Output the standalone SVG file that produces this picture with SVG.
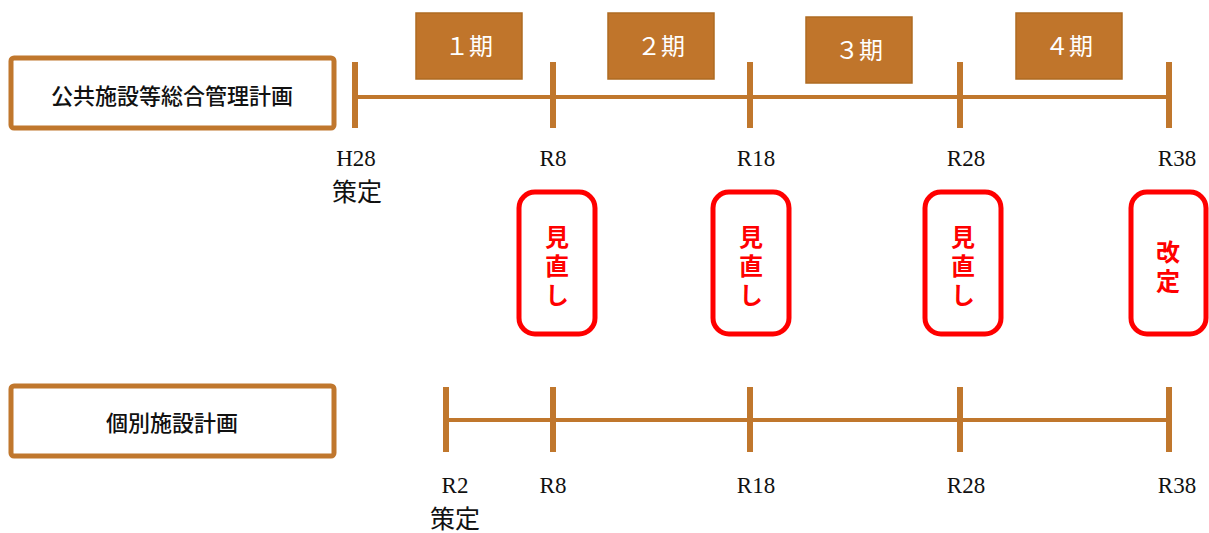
<svg xmlns="http://www.w3.org/2000/svg" width="1209" height="533" viewBox="0 0 1209 533">
<style>
.lbox{fill:#fff;stroke:#C0772D;stroke-width:5}
.ltxt{font-family:"Noto Sans CJK JP","Noto Sans",sans-serif;font-size:22px;font-weight:500;fill:#111;text-anchor:middle;dominant-baseline:central}
.line{stroke:#C0772D;stroke-width:4;fill:none}
.tick{stroke:#C0772D;stroke-width:6;fill:none}
.pbox{fill:#C0752B;stroke:#AE6B22;stroke-width:1.5}
.ptxt{font-family:"Liberation Serif","Noto Sans CJK JP",serif;font-size:24px;fill:#fff;text-anchor:middle;dominant-baseline:central}
.yr{font-family:"Liberation Serif","Noto Sans CJK JP",serif;font-size:23px;fill:#111;text-anchor:middle}
.sk{font-family:"Noto Sans CJK JP",serif;font-size:25px;fill:#111;text-anchor:middle}
.rbox{fill:#fff;stroke:#FF0000;stroke-width:5}
.rtxt{font-family:"Noto Sans CJK JP",sans-serif;font-size:24px;font-weight:700;fill:#FF0000;text-anchor:middle;writing-mode:vertical-rl;letter-spacing:5px}
</style>
<g id="plan-top">
<rect class="lbox" x="11" y="58" width="323" height="70" rx="3"/>
<text class="ltxt" x="172" y="94">公共施設等総合管理計画</text>
</g>
<g id="plan-bottom">
<rect class="lbox" x="11" y="386" width="323" height="70" rx="3"/>
<text class="ltxt" x="172" y="421">個別施設計画</text>
</g>
<g id="connectors">
<line class="line" x1="355" y1="97" x2="1169" y2="97"/>
<line class="tick" x1="355" y1="62" x2="355" y2="128"/>
<line class="tick" x1="553" y1="62" x2="553" y2="128"/>
<line class="tick" x1="750" y1="62" x2="750" y2="128"/>
<line class="tick" x1="960" y1="62" x2="960" y2="128"/>
<line class="tick" x1="1169" y1="62" x2="1169" y2="128"/>
<line class="line" x1="446" y1="420" x2="1169" y2="420"/>
<line class="tick" x1="446" y1="387" x2="446" y2="452"/>
<line class="tick" x1="553" y1="387" x2="553" y2="452"/>
<line class="tick" x1="750" y1="387" x2="750" y2="452"/>
<line class="tick" x1="960" y1="387" x2="960" y2="452"/>
<line class="tick" x1="1169" y1="387" x2="1169" y2="452"/>
</g>
<g id="period1"><rect class="pbox" x="416" y="13" width="106" height="66"/><text class="ptxt" x="469" y="47">１期</text></g>
<g id="period2"><rect class="pbox" x="608" y="13" width="106" height="66"/><text class="ptxt" x="661" y="47">２期</text></g>
<g id="period3"><rect class="pbox" x="806" y="17" width="106" height="66"/><text class="ptxt" x="859" y="51">３期</text></g>
<g id="period4"><rect class="pbox" x="1016" y="13" width="106" height="66"/><text class="ptxt" x="1069" y="47">４期</text></g>
<g id="years-top">
<text class="yr" x="356" y="166">H28</text>
<text class="sk" x="357" y="201">策定</text>
<text class="yr" x="553" y="166">R8</text>
<text class="yr" x="756" y="166">R18</text>
<text class="yr" x="966" y="166">R28</text>
<text class="yr" x="1177" y="166">R38</text>
</g>
<g id="years-bottom">
<text class="yr" x="455" y="493">R2</text>
<text class="sk" x="455" y="528">策定</text>
<text class="yr" x="553" y="493">R8</text>
<text class="yr" x="756" y="493">R18</text>
<text class="yr" x="966" y="493">R28</text>
<text class="yr" x="1177" y="493">R38</text>
</g>
<g id="review1"><rect class="rbox" x="519" y="192" width="76" height="142" rx="16"/>
<text class="rtxt" x="557" y="268">見直し</text></g>
<g id="review2"><rect class="rbox" x="713" y="192" width="76" height="142" rx="16"/>
<text class="rtxt" x="751" y="268">見直し</text></g>
<g id="review3"><rect class="rbox" x="925" y="192" width="76" height="142" rx="16"/>
<text class="rtxt" x="963" y="268">見直し</text></g>
<g id="revision"><rect class="rbox" x="1131" y="192" width="75" height="142" rx="16"/>
<text class="rtxt" x="1168" y="269">改定</text></g>
</svg>
